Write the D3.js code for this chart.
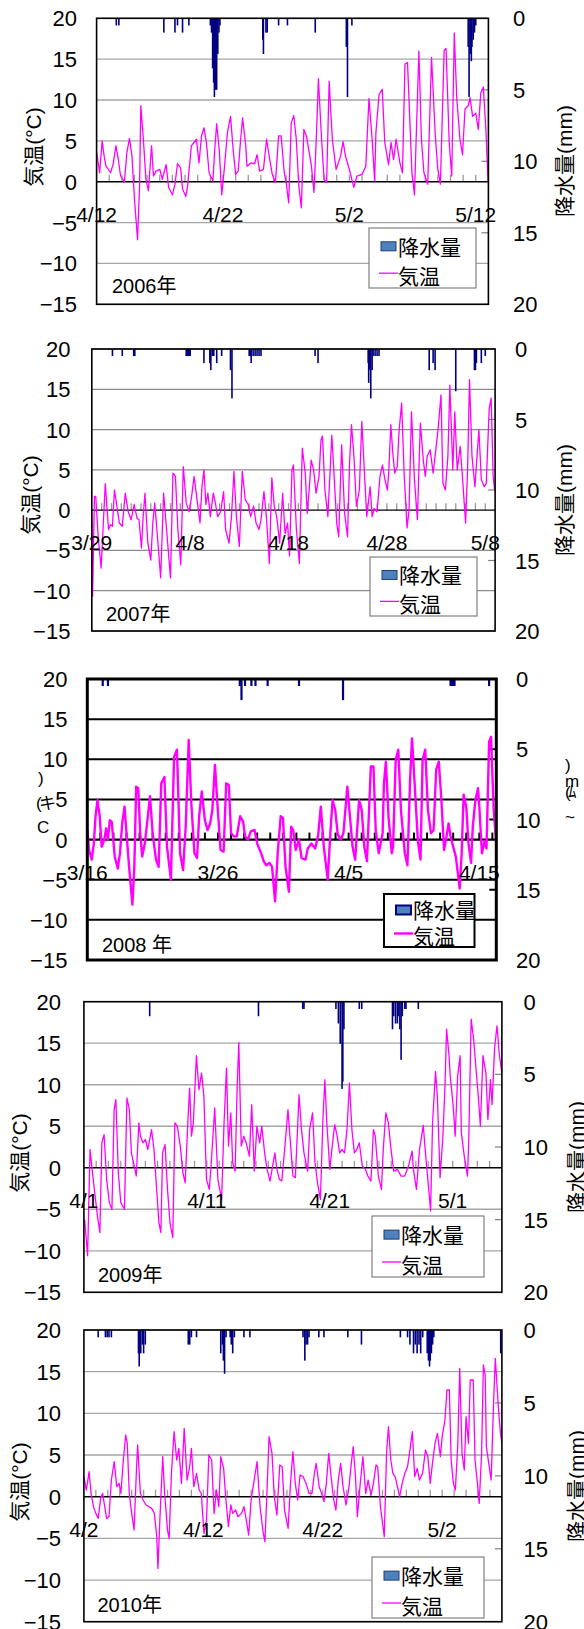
<!DOCTYPE html>
<html>
<head>
<meta charset="utf-8">
<script src="https://cdnjs.cloudflare.com/ajax/libs/d3/7.8.5/d3.min.js"></script>
<style>
body { margin: 0; background: #fff; }
svg text { font-family: "Liberation Sans", "Noto Sans CJK JP", sans-serif; fill: #000; }
</style>
</head>
<body>
<svg id="chart" width="584" height="1629"></svg>
<script>
// values: [day from first label, value]
var tempTicks = [20, 15, 10, 5, 0, -5, -10, -15];
var rainTicks = [0, 5, 10, 15, 20];
var legendNames = ["降水量", "気温"];

var labels2006 = ["4/12", "4/22", "5/2", "5/12"];
var labels2007 = ["3/29", "4/8", "4/18", "4/28", "5/8"];
var labels2008 = ["3/16", "3/26", "4/5", "4/15"];
var labels2009 = ["4/1", "4/11", "4/21", "5/1"];
var labels2010 = ["4/2", "4/12", "4/22", "5/2"];

var temp2006 = [[0,3.6],[0.24,1.1],[0.44,5.0],[0.6,3.1],[0.74,1.9],[0.94,1.5],[1.1,1.1],[1.3,2.1],[1.53,4.4],[1.7,2.9],[1.9,0.7],[2.2,0],[2.4,3.6],[2.6,5.3],[2.8,3.1],[3.0,-2.2],[3.24,-7.1],[3.4,-0.5],[3.5,9.3],[3.7,5.2],[3.9,0.3],[4.1,-1.1],[4.35,4.4],[4.5,0.7],[4.7,1.3],[5.0,1.5],[5.2,0.3],[5.5,2.1],[5.7,-0.7],[6.0,-1.6],[6.2,-0.3],[6.4,2.2],[6.65,1.7],[6.8,-0.9],[7.06,-1.8],[7.2,-0.5],[7.5,4.4],[7.7,4.8],[7.9,5.2],[8.1,2.3],[8.3,5.6],[8.5,6.6],[8.7,4.6],[8.9,1.1],[9.2,0.1],[9.35,4.0],[9.5,7.1],[9.7,4.0],[9.9,-1.6],[10.1,1.5],[10.35,6.0],[10.6,8.0],[10.8,4.0],[11.0,0.9],[11.2,1.3],[11.4,5.2],[11.55,7.8],[11.8,4.4],[11.9,1.9],[12.2,2.3],[12.5,2.2],[12.7,3.3],[12.9,1.3],[13.2,1.5],[13.45,5.2],[13.7,2.7],[13.9,0.9],[14.15,-0.1],[14.4,5.6],[14.6,5.6],[14.85,1.1],[15.0,-0.1],[15.2,-2.6],[15.4,7.2],[15.6,8.1],[15.8,5.2],[16.0,-0.5],[16.2,-3.2],[16.4,6.4],[16.6,5.6],[16.8,3.8],[17.0,1.9],[17.2,-1.3],[17.4,6.0],[17.55,12.6],[17.8,5.2],[18.0,0.3],[18.2,-0.1],[18.4,12.3],[18.65,5.2],[18.95,1.5],[19.3,3.1],[19.5,4.9],[19.7,3.1],[20.0,1.5],[20.35,-0.7],[20.6,0.7],[21.0,0.9],[21.3,1.9],[21.55,10.2],[21.8,5.2],[22.0,0.1],[22.1,6.0],[22.35,10.7],[22.6,11.3],[22.8,4.8],[23.1,2.1],[23.3,4.8],[23.5,2.7],[23.7,5.2],[24.0,2.3],[24.2,1.1],[24.4,14.4],[24.6,14.6],[24.95,1.1],[25.15,-1.6],[25.3,6.0],[25.5,16.0],[25.7,5.2],[25.9,1.1],[26.2,-0.3],[26.5,15.2],[26.8,5.6],[27.0,1.5],[27.2,-0.3],[27.5,16.1],[27.65,16.3],[27.9,4.8],[28.1,0.7],[28.3,18.2],[28.5,10.1],[28.75,5.2],[28.95,3.3],[29.15,8.9],[29.4,9.3],[29.55,10.3],[29.75,8.0],[30.0,8.4],[30.2,6.4],[30.4,10.9],[30.6,11.6],[30.8,6.4],[30.97,0.1]];
var rain2006 = [[1.56,0.5],[1.76,0.5],[5.32,1.0],[6.2,1.0],[6.4,0.5],[6.8,1.0],[7.3,0.5],[9.0,0.5],[9.09,1.0],[9.18,3.5],[9.26,4.5],[9.32,5.5],[9.41,5.0],[9.5,5.0],[9.59,2.5],[9.68,1.0],[9.76,0.5],[13.15,1.5],[13.2,2.5],[13.4,1.0],[13.5,1.0],[14.4,0.5],[15.1,0.5],[17.3,1.0],[19.76,2.0],[19.85,5.5],[20.2,0.5],[29.4,2.0],[29.47,5.5],[29.56,2.5],[29.65,3.0],[29.7,2.0],[29.8,1.5],[29.9,1.0],[30.0,0.5]];

var temp2007 = [[0,0],[0.08,-10.7],[0.27,1.7],[0.4,1.7],[0.65,-3.3],[0.95,-7.2],[1.14,-2.4],[1.37,3.3],[1.56,0],[1.7,-2.4],[1.9,-1.8],[2.1,-2.0],[2.3,2.5],[2.55,0.5],[2.8,-1.6],[3.1,-2.0],[3.4,2.1],[3.7,-0.2],[4.0,-1.2],[4.3,0.7],[4.6,-1.0],[4.8,-1.2],[5.05,-4.7],[5.2,-1.2],[5.4,2.1],[5.7,-4.1],[6.0,-6.2],[6.2,-1.6],[6.4,0.9],[6.65,-2.9],[7.0,-8.4],[7.3,2.1],[7.6,-2.4],[8.0,-8.4],[8.25,4.6],[8.5,4.2],[8.75,-2.4],[9.05,-6.8],[9.3,5.4],[9.6,0.9],[9.9,-0.2],[10.15,1.7],[10.4,4.2],[10.7,1.3],[11.0,-1.6],[11.2,2.9],[11.4,5.0],[11.6,0.7],[11.8,2.1],[12.05,-0.8],[12.35,2.1],[12.5,1.3],[12.8,-0.8],[13.1,-0.2],[13.4,2.3],[13.6,-2.4],[13.95,-4.1],[14.2,-0.8],[14.45,4.8],[14.7,-0.8],[15.0,-4.5],[15.3,4.8],[15.6,1.3],[15.9,0.7],[16.15,-0.8],[16.45,0.5],[16.7,-1.6],[17.0,-2.4],[17.2,-1.2],[17.5,2.3],[17.75,-0.8],[18.05,-6.6],[18.3,4.0],[18.55,0.5],[18.8,-0.8],[19.1,-4.1],[19.4,2.1],[19.65,-2.9],[19.9,-1.6],[20.1,-5.7],[20.35,5.0],[20.5,5.6],[20.8,-2.4],[21.1,-6.6],[21.4,7.7],[21.7,4.6],[21.9,-0.4],[22.1,2.5],[22.3,6.2],[22.55,5.0],[22.8,2.1],[23.1,4.2],[23.3,8.7],[23.45,9.2],[23.7,2.5],[24.0,-0.8],[24.4,9.3],[24.6,5.0],[24.9,-1.6],[25.1,-3.3],[25.4,8.1],[25.7,-0.4],[26.0,-3.3],[26.2,5.8],[26.4,10.6],[26.65,6.7],[26.9,0.5],[27.2,2.5],[27.45,11.0],[27.7,5.0],[27.95,-0.8],[28.3,2.9],[28.5,-0.8],[28.7,0.2],[29.0,-0.2],[29.3,4.2],[29.55,5.6],[29.8,3.8],[30.05,2.5],[30.2,5.0],[30.4,10.6],[30.6,7.1],[30.8,4.6],[31.05,5.4],[31.25,10.0],[31.5,13.3],[31.75,4.6],[32.05,-2.2],[32.25,0],[32.5,12.2],[32.8,3.8],[33.1,-1.2],[33.4,10.8],[33.7,6.2],[33.9,4.2],[34.1,6.7],[34.4,7.5],[34.7,4.6],[34.9,6.7],[35.2,10.0],[35.5,14.3],[35.7,3.3],[35.95,2.5],[36.2,6.7],[36.4,15.5],[36.7,5.0],[36.9,12.2],[37.15,5.0],[37.45,7.9],[37.7,3.8],[38.0,-1.6],[38.2,5.0],[38.4,16.2],[38.65,6.7],[38.95,2.9],[39.35,10.0],[39.6,3.8],[39.9,2.9],[40.1,3.3],[40.4,12.6],[40.6,13.9],[40.8,4.2],[40.95,2.5]];
var rain2007 = [[2.1,0.5],[3.1,0.5],[4.26,0.5],[4.37,0.5],[9.6,0.5],[9.7,0.5],[9.8,0.5],[9.9,0.5],[10.0,0.5],[11.4,1.0],[12.0,1.0],[12.1,1.5],[12.25,0.5],[12.4,0.5],[12.7,1.0],[13.2,0.5],[14.1,1.5],[14.25,3.5],[16.0,0.5],[16.1,0.5],[16.2,1.0],[16.4,0.5],[16.6,0.5],[16.8,0.5],[17.0,0.5],[17.2,0.5],[22.7,0.5],[23.0,1.0],[28.1,1.0],[28.15,2.4],[28.25,1.5],[28.36,3.5],[28.5,1.5],[28.6,0.5],[28.8,0.5],[29.0,0.5],[29.2,0.5],[34.3,1.5],[34.7,1.0],[34.9,1.5],[37.0,3.0],[38.9,1.5],[39.0,1.5],[39.1,1.0],[39.6,1.0],[40.0,0.5]];

var temp2008 = [[0,1.2],[0.14,-1.3],[0.34,-2.5],[0.5,-0.5],[0.63,2.9],[0.78,4.9],[0.95,2.9],[1.1,-0.9],[1.3,0],[1.44,1.4],[1.58,0],[1.72,2.4],[1.87,2.2],[2.1,-2.1],[2.33,-3.6],[2.5,-1.7],[2.67,2.0],[2.85,4.1],[3.0,0.8],[3.2,-3.4],[3.45,-8.1],[3.6,-3.4],[3.74,6.6],[3.9,6.4],[4.05,0.8],[4.2,-2.1],[4.4,-0.5],[4.6,2.4],[4.8,5.4],[5.0,0.8],[5.26,-2.5],[5.46,-3.4],[5.66,7.0],[5.9,7.8],[6.1,-0.9],[6.4,-5.0],[6.64,10.3],[6.86,11.2],[7.1,-1.7],[7.33,-3.8],[7.53,1.6],[7.76,12.4],[7.96,4.5],[8.2,-1.7],[8.4,-2.3],[8.56,2.9],[8.76,6.0],[9.0,2.4],[9.2,1.2],[9.4,2.0],[9.57,3.7],[9.77,9.3],[9.97,4.1],[10.2,-1.3],[10.43,-1.5],[10.63,7.0],[10.83,6.8],[11.0,0.8],[11.2,0.4],[11.44,0.4],[11.7,2.9],[11.93,2.2],[12.07,0.4],[12.3,0],[12.5,1.0],[12.8,1.2],[13.0,-0.5],[13.3,-1.7],[13.5,-2.7],[13.7,-3.2],[13.94,-2.9],[14.14,-3.4],[14.37,-7.7],[14.57,-1.7],[14.8,2.9],[14.97,2.7],[15.17,-3.4],[15.43,-6.5],[15.6,1.6],[15.75,1.2],[15.95,-1.3],[16.2,0],[16.4,-2.3],[16.7,-2.5],[16.87,-1.1],[17.15,-0.5],[17.44,-1.1],[17.67,0.6],[17.87,4.1],[18.1,-0.9],[18.4,-5.0],[18.6,0.8],[18.77,4.9],[18.97,3.7],[19.17,0.6],[19.4,0],[19.6,0.8],[19.9,6.6],[20.1,2.9],[20.3,-0.9],[20.5,-2.5],[20.8,4.9],[21.0,3.7],[21.2,-0.9],[21.4,-2.7],[21.7,9.1],[21.9,9.1],[22.07,1.2],[22.3,-1.7],[22.6,0.8],[22.7,7.0],[22.85,9.7],[23.05,2.9],[23.3,-1.7],[23.4,-0.9],[23.6,9.9],[23.8,11.2],[24.0,3.7],[24.3,-1.7],[24.5,-3.2],[24.7,7.4],[24.85,12.6],[25.05,7.0],[25.3,-0.2],[25.5,-2.5],[25.66,9.9],[25.86,11.2],[26.07,3.7],[26.3,0.8],[26.5,1.2],[26.7,8.7],[26.9,9.7],[27.1,4.9],[27.3,-1.3],[27.45,0],[27.65,2.0],[27.8,0.4],[28.0,-0.9],[28.2,-2.1],[28.5,-6.1],[28.65,-1.7],[28.8,5.6],[29.0,4.1],[29.17,-0.5],[29.37,-2.9],[29.5,1.6],[29.7,4.9],[29.9,6.4],[30.0,4.1],[30.2,-1.7],[30.4,-0.2],[30.55,-1.1],[30.75,12.2],[30.9,12.8],[31.1,3.7],[31.3,-0.5]];
var rain2008 = [[1.18,0.5],[1.58,0.5],[11.67,0.5],[11.8,1.5],[12.07,0.5],[12.56,0.5],[12.87,0.5],[13.8,0.5],[16.2,0.5],[19.57,1.5],[27.8,0.5],[27.9,0.5],[28.0,0.5],[28.1,0.5],[30.75,0.5]];

var temp2009 = [[0.06,-6.2],[0.3,-10.6],[0.5,2.2],[0.64,0.2],[0.85,-2.6],[1.1,-5.8],[1.3,-7.8],[1.46,3.0],[1.64,4.0],[1.85,-1.4],[2.07,-4.2],[2.28,-5.0],[2.46,7.0],[2.6,8.2],[2.8,-0.6],[3.0,-4.2],[3.3,-5.0],[3.5,8.4],[3.7,7.0],[3.86,1.8],[4.04,0.6],[4.26,-1.0],[4.47,5.4],[4.6,3.8],[4.8,3.0],[5.0,3.4],[5.2,2.2],[5.35,3.4],[5.5,4.6],[5.7,2.2],[5.9,-2.2],[6.1,-6.6],[6.26,-7.8],[6.4,1.8],[6.6,2.8],[6.8,-2.6],[7.0,-6.6],[7.23,-8.4],[7.4,5.4],[7.6,5.0],[7.84,2.6],[8.05,-0.6],[8.24,-1.8],[8.45,5.4],[8.6,9.6],[8.75,3.8],[8.9,5.4],[9.15,13.5],[9.36,9.4],[9.57,11.4],[9.76,8.6],[9.97,-1.4],[10.2,-2.6],[10.36,0.6],[10.64,7.2],[10.9,-1.4],[11.2,-3.8],[11.4,5.4],[11.6,12.0],[11.76,2.6],[11.95,6.6],[12.1,0.6],[12.3,-0.4],[12.46,9.4],[12.6,15.1],[12.8,2.6],[13.0,3.8],[13.2,3.0],[13.46,1.4],[13.65,7.6],[13.86,-0.4],[14.07,5.0],[14.3,3.0],[14.47,5.0],[14.7,1.8],[14.9,-0.2],[15.14,-1.6],[15.35,0.2],[15.53,1.8],[15.7,-0.2],[15.9,-1.4],[16.1,-1.6],[16.35,2.6],[16.6,7.0],[16.8,3.0],[17.0,-1.0],[17.2,-1.2],[17.5,8.8],[17.7,4.6],[17.9,1.8],[18.2,-0.4],[18.36,4.6],[18.6,6.6],[18.8,0.6],[19.0,-1.8],[19.24,-3.8],[19.45,6.2],[19.6,10.6],[19.76,5.4],[20.0,-0.2],[20.2,2.6],[20.4,5.2],[20.6,3.8],[20.8,1.8],[21.0,2.2],[21.2,1.8],[21.4,4.6],[21.6,10.2],[21.8,4.6],[22.0,1.8],[22.2,2.2],[22.4,3.0],[22.65,0.2],[22.9,-0.2],[23.1,-1.0],[23.35,-1.6],[23.55,4.6],[23.7,3.8],[23.95,-1.0],[24.2,-2.6],[24.35,2.2],[24.56,6.6],[24.77,5.4],[24.95,2.6],[25.2,-0.4],[25.5,-0.2],[25.8,-1.0],[26.1,-1.0],[26.4,0.2],[26.7,2.0],[26.8,-0.2],[27.05,-2.6],[27.3,2.2],[27.6,5.1],[27.85,0.6],[28.05,-2.6],[28.2,-5.2],[28.36,5.4],[28.6,11.6],[28.75,8.6],[28.97,-1.2],[29.2,3.8],[29.36,9.4],[29.5,16.7],[29.7,13.5],[29.8,11.0],[30.03,7.6],[30.2,3.8],[30.4,11.0],[30.6,13.5],[30.7,4.2],[30.94,1.4],[31.2,-1.0],[31.3,3.0],[31.5,17.9],[31.7,15.5],[31.9,11.8],[32.1,8.2],[32.25,5.0],[32.46,13.5],[32.7,11.4],[32.86,5.8],[33.07,10.6],[33.2,7.6],[33.4,14.3],[33.6,17.1],[33.8,13.5],[34.0,11.4]];
var rain2009 = [[5.35,1.0],[14.2,1.0],[17.8,0.5],[17.9,0.5],[20.5,0.5],[20.7,1.5],[20.85,2.9],[21.0,6.0],[21.06,5.5],[21.15,1.9],[22.4,0.5],[22.6,0.5],[25.1,1.9],[25.2,1.0],[25.35,1.5],[25.5,1.5],[25.56,1.0],[25.7,1.9],[25.8,4.0],[25.9,1.0],[26.1,0.5],[26.2,0.5],[27.2,0.5]];

var temp2010 = [[0,2.4],[0.2,0.8],[0.44,3.0],[0.6,0.4],[0.8,-1.2],[1.0,-2.0],[1.2,-2.6],[1.4,-0.2],[1.57,0.4],[1.7,-0.8],[1.9,-2.6],[2.1,-2.4],[2.3,2.0],[2.54,4.2],[2.75,1.2],[2.95,1.6],[3.1,0.4],[3.3,4.4],[3.5,7.4],[3.63,6.4],[3.8,0.4],[4.0,-2.0],[4.2,-4.0],[4.4,3.2],[4.5,6.2],[4.73,0.4],[4.95,-0.4],[5.2,-1.0],[5.45,-1.2],[5.67,-1.4],[5.9,-2.0],[6.1,-4.8],[6.2,-8.6],[6.36,-2.8],[6.6,4.8],[6.76,0.4],[7.0,-4.0],[7.14,-5.0],[7.33,2.8],[7.55,7.8],[7.77,4.4],[7.95,5.8],[8.17,1.6],[8.4,8.2],[8.64,2.0],[8.86,3.6],[9.0,5.8],[9.2,1.2],[9.43,2.8],[9.65,0.8],[9.83,0.4],[10.05,-4.4],[10.27,-2.8],[10.46,5.0],[10.7,4.4],[10.9,-2.0],[11.1,0.8],[11.3,-1.2],[11.46,4.8],[11.7,3.4],[11.87,0],[12.1,-3.6],[12.3,-1.0],[12.46,-2.0],[12.7,-1.6],[12.9,-2.4],[13.2,-2.0],[13.4,-1.2],[13.6,-2.8],[13.8,-4.6],[14.0,-0.4],[14.3,2.4],[14.5,4.2],[14.75,-1.2],[15.0,-4.2],[15.16,-5.4],[15.4,3.2],[15.5,7.2],[15.75,5.2],[15.94,0],[16.16,-2.2],[16.4,3.8],[16.6,3.6],[16.8,-1.6],[17.1,-3.8],[17.3,1.6],[17.5,5.4],[17.7,1.6],[17.9,-0.4],[18.1,2.6],[18.35,2.4],[18.6,1.6],[18.85,0.4],[19.1,0.4],[19.3,2.8],[19.45,4.0],[19.7,1.2],[19.9,0.4],[20.1,-0.6],[20.3,1.6],[20.5,5.2],[20.7,2.4],[20.9,-0.2],[21.1,-1.6],[21.3,2.0],[21.5,4.0],[21.7,1.2],[21.95,-1.0],[22.2,1.2],[22.36,3.6],[22.55,6.0],[22.74,2.4],[22.9,-2.4],[23.14,1.6],[23.36,4.8],[23.6,0.4],[23.8,2.0],[24.05,0.2],[24.24,1.6],[24.46,3.8],[24.6,3.6],[24.83,-1.2],[25.15,-4.8],[25.34,5.2],[25.5,8.4],[25.7,4.4],[25.87,2.8],[26.06,2.4],[26.25,1.2],[26.44,0],[26.65,1.6],[26.87,2.8],[27.1,3.6],[27.34,6.0],[27.5,7.8],[27.7,2.4],[27.9,3.4],[28.1,2.0],[28.36,2.8],[28.6,5.6],[28.8,4.8],[29.0,1.6],[29.2,4.2],[29.4,6.4],[29.6,7.6],[29.85,4.8],[30.0,7.2],[30.23,9.2],[30.4,12.8],[30.6,12.8],[30.75,4.4],[30.94,1.6],[31.1,0.8],[31.3,6.0],[31.47,15.4],[31.66,5.2],[31.85,3.2],[32.0,9.6],[32.2,6.4],[32.35,14.0],[32.6,14.0],[32.75,4.4],[32.95,1.6],[33.1,-0.8],[33.3,5.2],[33.45,15.8],[33.6,14.6],[33.7,6.0],[33.9,4.0],[34.1,2.0],[34.3,11.2],[34.45,16.6],[34.7,10.8],[34.88,7.6],[35.0,6.4]];
var rain2010 = [[1.2,0.5],[1.8,0.5],[1.95,0.5],[2.1,0.5],[2.3,0.5],[4.57,1.6],[4.63,2.5],[4.76,1.6],[4.9,1.0],[5.0,1.6],[5.14,1.0],[8.74,1.0],[8.86,1.0],[9.0,0.5],[9.43,0.5],[11.46,1.6],[11.6,1.0],[11.68,2.1],[11.78,3.0],[11.9,0.5],[12.25,0.5],[12.34,1.0],[12.46,1.6],[12.6,0.5],[13.4,0.5],[13.9,0.5],[18.35,0.5],[18.5,2.1],[18.6,1.0],[18.73,1.0],[18.85,0.5],[19.67,0.5],[20.1,0.5],[22.1,0.5],[23.24,1.0],[26.5,0.5],[27.1,0.5],[27.3,1.0],[27.6,1.6],[27.75,1.0],[27.9,1.6],[28.06,1.0],[28.2,1.6],[28.37,0.5],[28.75,1.6],[28.85,2.1],[28.94,2.5],[29.0,2.1],[29.1,1.6],[29.2,1.0],[29.3,0.5],[34.9,1.6]];

// layout of the five stacked panels
var panels = [
    {year: "2006年", temp: temp2006, rain: rain2006, labels: labels2006, days: 31,
     box: [96.6, 18.3, 488.4, 304.3], leftLab: 77, rightLab: 513, leftTitle: [33, 147], rightTitle: [564, 161],
     yearPos: [112, 293], legend: [369, 228, 476, 288], bold: false},
    {year: "2007年", temp: temp2007, rain: rain2007, labels: labels2007, days: 41,
     box: [91.8, 349, 495.1, 631], leftLab: 70.4, rightLab: 515, leftTitle: [30, 495], rightTitle: [564, 500],
     yearPos: [106, 620.5], legend: [370, 557, 477, 616], bold: false},
    {year: "2008 年", temp: temp2008, rain: rain2008, labels: labels2008, days: 31.3,
     box: [87.3, 679, 496.3, 960], leftLab: 67.4, rightLab: 516, leftTitle: null, rightTitle: null,
     yearPos: [102, 952], legend: [384, 894, 474.5, 947], bold: true},
    {year: "2009年", temp: temp2009, rain: rain2009, labels: labels2009, days: 34,
     box: [83.9, 1001.7, 501.9, 1292.3], leftLab: 61, rightLab: 523.6, leftTitle: [19.7, 1153], rightTitle: [576, 1157],
     yearPos: [98, 1281.7], legend: [372, 1216, 484, 1277], bold: false},
    {year: "2010年", temp: temp2010, rain: rain2010, labels: labels2010, days: 35,
     box: [83.9, 1330, 501.9, 1621.7], leftLab: 61, rightLab: 523.6, leftTitle: [19.7, 1482], rightTitle: [576, 1486],
     yearPos: [97.4, 1611.7], legend: [372, 1557, 484, 1618], bold: false}
];

var svg = d3.select("#chart");

function fmt(v) {
    return v < 0 ? "\u2212" + (-v) : String(v);
}

function drawPanel(p, idx) {
    var left = p.box[0], top = p.box[1], right = p.box[2], bottom = p.box[3];
    var x = d3.scaleLinear().domain([0, p.days]).range([left, right]);
    var y = d3.scaleLinear().domain([-15, 20]).range([bottom, top]);
    var yr = d3.scaleLinear().domain([0, 20]).range([top, bottom]);
    var g = svg.append("g").attr("class", "panel");
    var gridColor = p.bold ? "#000" : (idx == 1 ? "#8c8c8c" : "#a6a6a6");
    var gridW = p.bold ? 2 : 1.3;

    g.append("clipPath").attr("id", "clip" + idx)
        .append("rect").attr("x", left).attr("y", top)
        .attr("width", right - left).attr("height", bottom - top);

    // gridlines
    g.selectAll("line.grid").data(tempTicks.filter(function (v) { return v != 0; }))
        .enter().append("line")
        .attr("x1", left).attr("x2", right)
        .attr("y1", function (d) { return y(d); }).attr("y2", function (d) { return y(d); })
        .attr("stroke", gridColor).attr("stroke-width", gridW);

    // right axis inner ticks
    g.selectAll("line.rtick").data([5, 10, 15]).enter().append("line")
        .attr("x1", right - 7).attr("x2", right)
        .attr("y1", function (d) { return yr(d); }).attr("y2", function (d) { return yr(d); })
        .attr("stroke", p.bold ? "#000" : "#808080").attr("stroke-width", p.bold ? 2 : 1.2);

    // day ticks on the zero line
    var zy = y(0);
    g.selectAll("line.dtick").data(d3.range(1, Math.floor(p.days) + 1).filter(function (d) { return d < p.days; }))
        .enter().append("line")
        .attr("x1", function (d) { return x(d); }).attr("x2", function (d) { return x(d); })
        .attr("y1", zy).attr("y2", zy - 7)
        .attr("stroke", p.bold ? "#000" : "#9a9a9a").attr("stroke-width", p.bold ? 2 : 1.3);

    g.append("line").attr("x1", left).attr("x2", right).attr("y1", zy).attr("y2", zy)
        .attr("stroke", "#000").attr("stroke-width", p.bold ? 2.2 : 1.4);

    // precipitation, hanging from the top
    var bw = p.bold ? 2.2 : 1.6;
    g.selectAll("rect.rain").data(p.rain).enter().append("rect")
        .attr("x", function (d) { return x(d[0]) - bw / 2; })
        .attr("y", top)
        .attr("width", bw)
        .attr("height", function (d) { return yr(d[1]) - top; })
        .attr("fill", "#000080");

    // temperature
    var line = d3.line().x(function (d) { return x(d[0]); }).y(function (d) { return y(d[1]); });
    g.append("path").datum(p.temp)
        .attr("d", line)
        .attr("clip-path", "url(#clip" + idx + ")")
        .attr("fill", "none")
        .attr("stroke", "#ff00ff")
        .attr("stroke-width", p.bold ? 2.4 : 1.3)
        .attr("stroke-linejoin", "round");

    // frame
    g.append("rect").attr("x", left).attr("y", top)
        .attr("width", right - left).attr("height", bottom - top)
        .attr("fill", "none").attr("stroke", "#000").attr("stroke-width", p.bold ? 3 : 1.6);

    // left tick labels
    g.selectAll("text.yl").data(tempTicks).enter().append("text")
        .attr("x", p.leftLab).attr("y", function (d) { return y(d) + 8; })
        .attr("text-anchor", "end").attr("font-size", 22)
        .text(fmt);

    // right tick labels
    g.selectAll("text.yr").data(rainTicks).enter().append("text")
        .attr("x", p.rightLab).attr("y", function (d) { return yr(d) + 8; })
        .attr("text-anchor", "start").attr("font-size", 22)
        .text(fmt);

    // date labels
    g.selectAll("text.xl").data(p.labels).enter().append("text")
        .attr("x", function (d, i) { return x(i * 10); })
        .attr("y", zy + 40)
        .attr("text-anchor", "middle").attr("font-size", 21)
        .text(function (d) { return d; });

    // axis titles
    if (p.leftTitle) {
        g.append("text")
            .attr("transform", "translate(" + p.leftTitle[0] + "," + p.leftTitle[1] + ") rotate(-90)")
            .attr("text-anchor", "middle").attr("dominant-baseline", "central")
            .attr("font-size", 21).text("気温(°C)");
        g.append("text")
            .attr("transform", "translate(" + p.rightTitle[0] + "," + p.rightTitle[1] + ") rotate(-90)")
            .attr("text-anchor", "middle").attr("dominant-baseline", "central")
            .attr("font-size", 21).text("降水量(mm)");
    } else {
        // the 2008 panel shows only broken fragments of both titles
        var frag = [[38, 784, ")"], [36, 809, "("], [39, 809, "キ"], [37, 833, "C"],
                    [565, 771, ")"], [565, 787, "m"], [565, 798, "("], [568, 798, "ﾑ"], [565, 823, "~"]];
        g.selectAll("text.frag").data(frag).enter().append("text")
            .attr("x", function (d) { return d[0]; }).attr("y", function (d) { return d[1]; })
            .attr("font-size", 17).text(function (d) { return d[2]; });
    }

    // year
    g.append("text").attr("x", p.yearPos[0]).attr("y", p.yearPos[1])
        .attr("font-size", 20).text(p.year);

    // legend
    var L = p.legend;
    g.append("rect").attr("x", L[0]).attr("y", L[1])
        .attr("width", L[2] - L[0]).attr("height", L[3] - L[1])
        .attr("fill", "#fff").attr("stroke", p.bold ? "#000" : "#808080")
        .attr("stroke-width", p.bold ? 2 : 1.2);
    var h = L[3] - L[1];
    var r1 = L[1] + h * 0.33, r2 = L[1] + h * 0.82;
    g.append("rect").attr("x", L[0] + 12).attr("y", r1 - 6)
        .attr("width", 15).attr("height", 9)
        .attr("fill", "#4f81bd").attr("stroke", p.bold ? "#000080" : "#1f3d7a")
        .attr("stroke-width", p.bold ? 2 : 1);
    g.append("line").attr("x1", L[0] + 10).attr("x2", L[0] + 29)
        .attr("y1", r2 - 4).attr("y2", r2 - 4)
        .attr("stroke", "#ff00ff").attr("stroke-width", p.bold ? 2.4 : 1.3);
    g.selectAll("text.leg").data(legendNames).enter().append("text")
        .attr("x", L[0] + 29)
        .attr("y", function (d, i) { return (i == 0 ? r1 : r2) + 7; })
        .attr("font-size", 21)
        .text(function (d) { return d; });
}

panels.forEach(drawPanel);
</script>
</body>
</html>
